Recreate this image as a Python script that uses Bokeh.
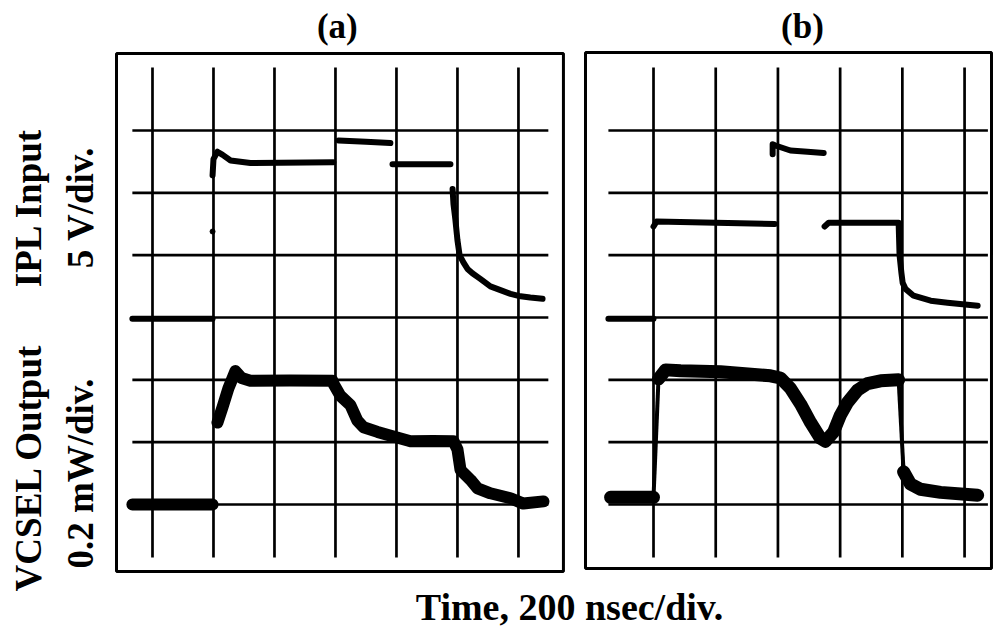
import numpy as np
from bokeh.plotting import figure
from bokeh.layouts import column, row
from bokeh.models import Label, Range1d
from bokeh.embed import file_html
from bokeh.resources import INLINE

NAN = float("nan")

# ---------------- data (time in ns, 200 ns/div) ----------------
# Panel (a): IPL input (V), NaN = no visible trace (fast edge)
ipl_a_t = [-66, 197, NAN, 197, 200, 213, 230, 256, 321, 593, NAN,
           610, 700, 780, NAN, 787, 977, NAN,
           984, 987, 993, 1000, 1007, 1020, 1033, 1049, 1075, 1108, 1141, 1174, 1207, 1239, 1279]
ipl_a_v = [-0.1, -0.1, NAN, 11.4, 12.7, 13.3, 13.05, 12.6, 12.4, 12.45, NAN,
           14.2, 14.1, 14.0, NAN, 12.3, 12.3, NAN,
           10.3, 9.1, 7.9, 6.2, 5.0, 4.4, 3.9, 3.55, 3.1, 2.5, 2.2, 1.9, 1.7, 1.6, 1.5]
ipl_a_dot_t = [197]
ipl_a_dot_v = [6.9]

# Panel (a): VCSEL output (mW)
vcsel_a_t = [-66, 197, NAN, 213, 230, 249, 272, 292, 321, 450, 590, 593, 616, 649, 672, 692,
             738, 790, 846, 920, 987, 1000, 1010, 1043, 1066, 1108, 1174, 1216, 1282]
vcsel_a_p = [0.0, 0.0, NAN, 0.263, 0.313, 0.373, 0.428, 0.406, 0.397, 0.398, 0.397, 0.388, 0.349,
             0.319, 0.269, 0.248, 0.233, 0.218, 0.203, 0.204, 0.203, 0.177, 0.111, 0.079, 0.052,
             0.036, 0.020, 0.003, 0.010]

# Panel (b): IPL input (V)
ipl_b_t = [-145, 0, NAN, 0, 10, 200, 390, NAN, 383, 383, 392, 440, 495, 547, NAN,
           550, 563, 700, 788, 791, 797, 801, 810, 836, 891, 945, 1042]
ipl_b_v = [-0.1, -0.1, NAN, 7.3, 7.7, 7.6, 7.5, NAN, 13.1, 13.9, 13.8, 13.4, 13.3, 13.2, NAN,
           7.3, 7.6, 7.6, 7.6, 5.0, 3.57, 2.78, 2.3, 1.75, 1.35, 1.19, 0.95]

# Panel (b): VCSEL output (mW), continuous trace; fast edges listed by index
vcsel_b_t = [-138, 0, 16, 39, 87, 215, 376, 408, 440, 473, 505, 537, 553, 579, 601, 624,
             656, 688, 730, 788, 804, 826, 858, 923, 1042]
vcsel_b_p = [0.023, 0.023, 0.403, 0.432, 0.429, 0.426, 0.413, 0.406, 0.373, 0.322, 0.263,
             0.212, 0.203, 0.233, 0.287, 0.328, 0.367, 0.388, 0.397, 0.400, 0.105, 0.066,
             0.049, 0.039, 0.030]
vcsel_b_fast_edges = [1, 19]   # segment i -> i+1 drawn thin

# scope settings
IPL_V_PER_DIV = 5.0
IPL_ZERO_DIV = 3.0
VCSEL_MW_PER_DIV = 0.2
VCSEL_ZERO_DIV = 0.0

grid_a_t = [0, 200, 400, 600, 800, 1000, 1200]
grid_b_t = [0, 200, 400, 600, 800, 1000]
grid_div = [0, 1, 2, 3, 4, 5, 6]

SERIF = "Liberation Serif"
Y_RANGE = (-1.219, 8.086)   # divisions, whole canvas height


def ipl_div(v):
    return IPL_ZERO_DIV + np.asarray(v, dtype=float) / IPL_V_PER_DIV


def vcsel_div(p):
    return VCSEL_ZERO_DIV + np.asarray(p, dtype=float) / VCSEL_MW_PER_DIV


def bare(width, height, xr, yr):
    p = figure(width=width, height=height, x_range=Range1d(*xr), y_range=Range1d(*yr),
               output_backend="svg", toolbar_location=None,
               x_axis_location=None, y_axis_location=None,
               min_border=0, min_border_left=0, min_border_right=0,
               min_border_top=0, min_border_bottom=0)
    p.grid.visible = False
    p.outline_line_color = None
    p.background_fill_color = "white"
    p.border_fill_color = "white"
    return p


def make_panel(width, xr, box, grid_t, hx):
    p = bare(width, 580, xr, Y_RANGE)
    # scope frame
    p.quad(left=[box[0]], right=[box[1]], bottom=[box[2]], top=[box[3]],
           fill_color=None, line_color="black", line_width=3)
    # graticule
    p.segment(x0=grid_t, x1=grid_t, y0=[-0.85] * len(grid_t), y1=[7.01] * len(grid_t),
              line_color="black", line_width=2.7)
    p.segment(x0=[hx[0]] * len(grid_div), x1=[hx[1]] * len(grid_div), y0=grid_div, y1=grid_div,
              line_color="black", line_width=2.7)
    return p


pa = make_panel(464, (-137.7, 1383.8), (-118, 1347.5, -1.075, 7.235), grid_a_t, (-66, 1298))
pb = make_panel(419, (-254, 1093), (-218.6, 1086.5, -1.027, 7.25), grid_b_t, (-145, 1075))

# traces panel (a)
pa.line(np.array(ipl_a_t, dtype=float), ipl_div(ipl_a_v), line_color="black", line_width=6,
        line_cap="round", line_join="round")
pa.scatter(ipl_a_dot_t, ipl_div(ipl_a_dot_v), size=5, color="black")
pa.line(np.array(vcsel_a_t, dtype=float), vcsel_div(vcsel_a_p), line_color="black", line_width=12,
        line_cap="round", line_join="round")

# traces panel (b)
pb.line(np.array(ipl_b_t, dtype=float), ipl_div(ipl_b_v), line_color="black", line_width=6,
        line_cap="round", line_join="round")
tb = np.array(vcsel_b_t, dtype=float)
yb = vcsel_div(vcsel_b_p)
thick_t, thick_y = [], []
for i in range(len(tb)):
    thick_t.append(tb[i]); thick_y.append(yb[i])
    if i in vcsel_b_fast_edges:
        thick_t.append(NAN); thick_y.append(NAN)
pb.line(np.array(thick_t), np.array(thick_y), line_color="black", line_width=13,
        line_cap="round", line_join="round")
pb.segment(x0=[tb[i] for i in vcsel_b_fast_edges], x1=[tb[i + 1] for i in vcsel_b_fast_edges],
           y0=[yb[i] for i in vcsel_b_fast_edges], y1=[yb[i + 1] for i in vcsel_b_fast_edges],
           line_color="black", line_width=4)

# texts
lab = dict(text_font=SERIF, text_font_style="bold", text_color="black")
pa.add_layout(Label(x=606, y=7.67, text="(a)", text_align="center", text_baseline="alphabetic",
                    text_font_size="35px", **lab))
pb.add_layout(Label(x=479, y=7.67, text="(b)", text_align="center", text_baseline="alphabetic",
                    text_font_size="35px", **lab))

# left side labels (own canvas so they are not clipped)
pl = bare(110, 626, (0, 110), (0, 626))
for txt, x, y in [("IPL Input", 28, 419), ("5 V/div.", 80, 419),
                  ("VCSEL Output", 28, 159), ("0.2 mW/div.", 80, 153)]:
    pl.add_layout(Label(x=x, y=y, text=txt, angle=90, angle_units="deg", text_align="center",
                        text_baseline="alphabetic", text_font_size="37px", **lab))

pc = bare(883, 46, (0, 883), (0, 46))
pc.add_layout(Label(x=459, y=20, text="Time, 200 nsec/div.", text_align="center",
                    text_baseline="alphabetic", text_font_size="38px", **lab))

layout = row(pl, column(row(pa, pb, spacing=0), pc, spacing=0), spacing=0)
open("out.html", "w").write(file_html(layout, INLINE))
